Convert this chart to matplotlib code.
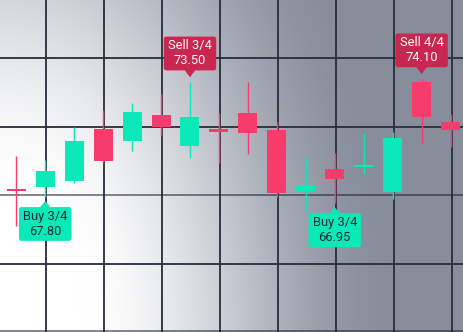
import numpy as np
import matplotlib
matplotlib.use("Agg")
import matplotlib.pyplot as plt
from matplotlib.patches import FancyBboxPatch, Polygon
from matplotlib.transforms import ScaledTranslation

plt.rcParams['font.family'] = ['Roboto', 'DejaVu Sans']

# ---- data (OHLC per bar) ----
opens  = [68.28, 68.40, 68.74, 71.39, 70.76, 72.09, 70.50, 71.37, 72.18, 71.34, 68.19, 69.34, 69.45, 68.15, 73.76, 71.75]
highs  = [69.99, 69.79, 71.45, 72.34, 72.69, 73.16, 73.79, 72.17, 73.79, 71.75, 69.93, 70.13, 71.15, 71.23, 73.95, 72.14]
lows   = [66.43, 67.91, 68.60, 69.61, 70.26, 71.06, 69.91, 69.62, 70.11, 67.92, 67.20, 67.59, 69.06, 67.80, 70.64, 70.47]
closes = [68.23, 69.24, 70.76, 69.74, 72.24, 71.50, 71.98, 71.20, 71.15, 68.11, 68.49, 68.83, 69.50, 70.93, 72.00, 71.31]

marker_idx = [1, 6, 11, 14]
marker_side = ['buy', 'sell', 'buy', 'sell']
marker_text = ['Buy 3/4\n67.80', 'Sell 3/4\n73.50', 'Buy 3/4\n66.95', 'Sell 4/4\n74.10']

UP = '#0CE9B9'
DOWN = '#F53C6B'
SELL_BOX = '#C8284F'
BUY_TEXT = '#142A36'
GRID = '#282C3B'

x = np.arange(len(opens))
o = np.array(opens); h = np.array(highs); l = np.array(lows); c = np.array(closes)

fig = plt.figure(figsize=(4.64, 3.32), dpi=100)

# background gradient (white at bottom-left -> slate gray), pixel exact
H, W = 332, 464
yy, xx = np.mgrid[0:H, 0:W] + 0.5
r = np.sqrt(xx ** 2 + (0.63 * (H - yy)) ** 2)
s = np.clip((r - 80) / 320, 0, 1)
t = (s * s * (3 - 2 * s))[..., None]
gray = np.array([135, 141, 155]) / 255.0
img = (1 - t) * np.ones(3) + t * gray
fig.figimage((img * 255).astype(np.uint8), xo=0, yo=0, origin='upper', zorder=0)

ax = fig.add_axes([0, 0, 1, 1])
ax.set_zorder(1)
ax.set_axis_off()

xlim = (-0.563, 15.465)
ylim = (61.0, 77.964)

# grid
ax.vlines(np.arange(1, 16, 2) + 0.04, ylim[0], ylim[1], colors=GRID, lw=1.3, zorder=1)
ax.hlines([64.5, 71.5, 75.0], xlim[0], xlim[1], colors=GRID, lw=1.3, zorder=1)
ax.hlines([68.0, 61.05], xlim[0], xlim[1], colors='#1E2230', lw=1.4, alpha=0.55, zorder=1)

# candles
colors = [UP if cc >= oo else DOWN for oo, cc in zip(o, c)]
ax.vlines(x, l, h, colors=colors, lw=1.0, zorder=3)
bottom = np.minimum(o, c)
height = np.maximum(np.abs(c - o), 0.09)
ax.bar(x, height, bottom=bottom, width=0.656, color=colors, zorder=4, linewidth=0)

ax.set_xlim(*xlim)
ax.set_ylim(*ylim)

# markers (drawn in pixel offsets from the bar's high / low)
bw, bh = 52.5, 33.8
for idx, side, txt in zip(marker_idx, marker_side, marker_text):
    if side == 'sell':
        trans = ScaledTranslation(x[idx], h[idx], ax.transData)
        box = FancyBboxPatch((-bw / 2, 11.3), bw, bh,
                             boxstyle="round,pad=0,rounding_size=2.5",
                             fc=SELL_BOX, ec='none', transform=trans, zorder=6)
        tri = Polygon([(-5.5, 11.8), (5.5, 11.8), (0, 4.4)], closed=True,
                      fc=SELL_BOX, ec='none', transform=trans, zorder=6)
        ty, tc = 11.3 + bh / 2, 'white'
    else:
        trans = ScaledTranslation(x[idx], l[idx], ax.transData)
        box = FancyBboxPatch((-bw / 2, -10.3 - bh), bw, bh,
                             boxstyle="round,pad=0,rounding_size=2.5",
                             fc=UP, ec='none', transform=trans, zorder=6)
        tri = Polygon([(-5.5, -10.8), (5.5, -10.8), (0, -4.3)], closed=True,
                      fc=UP, ec='none', transform=trans, zorder=6)
        ty, tc = -10.3 - bh / 2, BUY_TEXT
    ax.add_patch(box)
    ax.add_patch(tri)
    ax.text(0, ty, txt, transform=trans, ha='center', va='center',
            fontsize=9.3, color=tc, linespacing=1.2, zorder=7)

fig.savefig('out.png', dpi=100)
